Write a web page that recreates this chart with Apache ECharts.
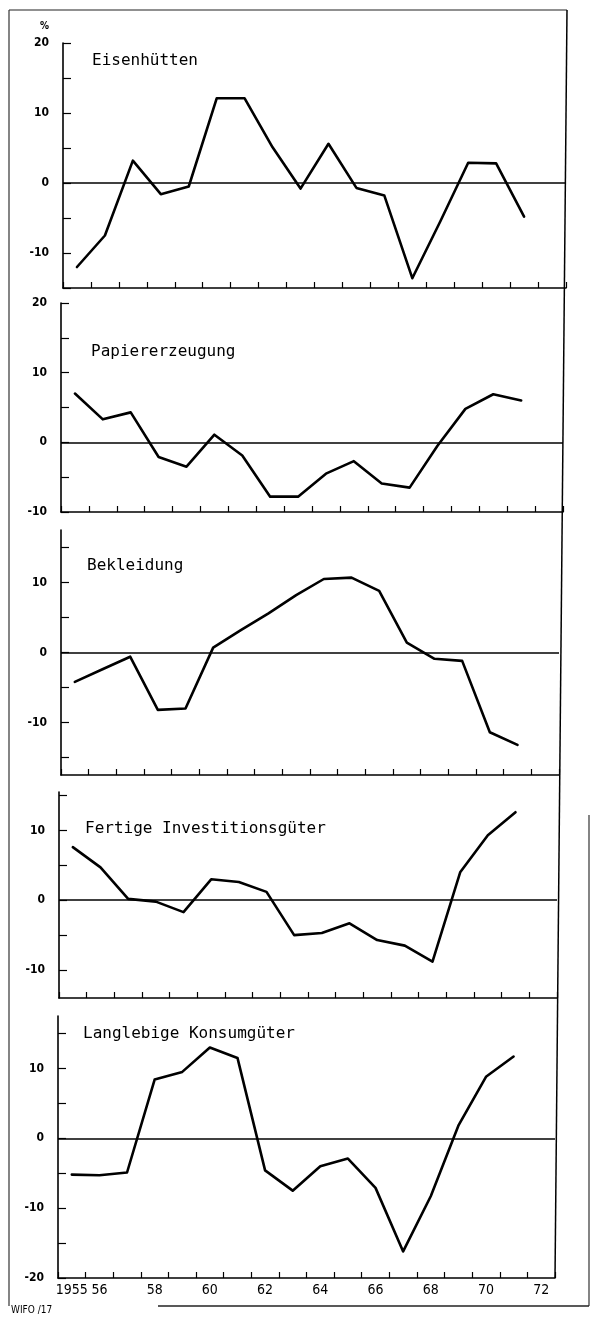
<!DOCTYPE html>
<html>
<head>
<meta charset="utf-8">
<script src="https://cdn.jsdelivr.net/npm/echarts@6/dist/echarts.min.js"></script>
<style>
  html, body { margin: 0; padding: 0; background: #fff; }
  #chart { width: 592px; height: 1319px; }
</style>
</head>
<body>
<div id="chart"></div>
<script>
// ---- data ----
const categories = ['1955','1956','1957','1958','1959','1960','1961','1962','1963','1964','1965','1966','1967','1968','1969','1970','1971','1972'];
const xTickLabels = ['1955','56','','58','','60','','62','','64','','66','','68','','70','','72'];

const panelTitles = ['Eisenhütten','Papiererzeugung','Bekleidung','Fertige Investitionsgüter','Langlebige Konsumgüter'];

const eisenhuetten   = [-12.0, -7.5, 3.2, -1.6, -0.5, 12.1, 12.1, 5.1, -0.8, 5.6, -0.7, -1.8, -13.6, -5.5, 2.9, 2.8, -4.8];
const papier         = [7.0, 3.3, 4.3, -2.1, -3.5, 1.1, -1.9, -7.8, -7.8, -4.5, -2.7, -5.9, -6.5, -0.5, 4.8, 6.9, 6.0];
const bekleidung     = [-4.2, -2.4, -0.6, -8.2, -8.0, 0.7, 3.2, 5.6, 8.2, 10.5, 10.7, 8.8, 1.4, -0.9, -1.2, -11.4, -13.2];
const investition    = [7.6, 4.7, 0.2, -0.2, -1.7, 3.0, 2.6, 1.2, -5.0, -4.7, -3.3, -5.7, -6.5, -8.8, 4.0, 9.3, 12.6];
const konsumgueter   = [-5.2, -5.3, -4.9, 8.4, 9.5, 13.0, 11.5, -4.6, -7.5, -4.0, -2.9, -7.1, -16.2, -8.3, 1.8, 8.8, 11.7];

const seriesData = [eisenhuetten, papier, bekleidung, investition, konsumgueter];

// y ranges, ticks and labels per panel
const yMin = [-15, -10, -17.5, -14, -20];
const yMax = [20, 20, 17.5, 15.5, 17.5];
const yTicks = [
  [-15, -10, -5, 0, 5, 10, 15, 20],
  [-10, -5, 0, 5, 10, 15, 20],
  [-15, -10, -5, 0, 5, 10, 15],
  [-10, -5, 0, 5, 10, 15],
  [-20, -15, -10, -5, 0, 5, 10, 15]
];
const yLabels = [
  [-10, 0, 10, 20],
  [-10, 0, 10, 20],
  [-10, 0, 10],
  [-10, 0, 10],
  [-20, -10, 0, 10]
];

// ---- layout ----
const panels = [
  { l: 63, r: 566, t: 43,   b: 288 },
  { l: 61, r: 563, t: 303,  b: 512 },
  { l: 61, r: 559, t: 530,  b: 775 },
  { l: 59, r: 557, t: 792,  b: 998 },
  { l: 58, r: 555, t: 1016, b: 1278 }
];
const titlePos = [
  { x: 92, y: 53 }, { x: 91, y: 344 }, { x: 87, y: 558 }, { x: 85, y: 821 }, { x: 83, y: 1026 }
];

const numFont = "'DejaVu Sans Condensed','Liberation Sans Narrow','DejaVu Sans',sans-serif";
const titleFont = "'DejaVu Sans Mono','Liberation Mono',monospace";

const grid = [], xAxis = [], yAxis = [], series = [], title = [];
panels.forEach((p, i) => {
  const last = i === panels.length - 1;
  grid.push({ left: p.l, top: p.t, width: p.r - p.l, height: p.b - p.t, containLabel: false, outerBoundsMode: 'none' });
  xAxis.push({
    type: 'category', gridIndex: i, data: categories, boundaryGap: true, position: 'bottom',
    axisLine: { show: true, onZero: false, lineStyle: { color: '#000', width: 1.6 } },
    axisTick: { show: true, inside: true, length: 6, interval: 0, lineStyle: { color: '#000', width: 1.2 } },
    axisLabel: {
      show: last, interval: 0, margin: 5, color: '#000', fontSize: 14, fontFamily: numFont,
      formatter: (v, idx) => xTickLabels[idx]
    },
    splitLine: { show: false }
  });
  yAxis.push({
    type: 'value', gridIndex: i, min: yMin[i], max: yMax[i],
    axisLine: { show: true, onZero: false, lineStyle: { color: '#000', width: 1.6 } },
    axisTick: { show: true, inside: true, length: 8, customValues: yTicks[i], lineStyle: { color: '#000', width: 1.2 } },
    axisLabel: { show: true, customValues: yLabels[i], margin: 14, color: '#000', fontSize: 12, fontWeight: 'bold', fontFamily: numFont },
    splitLine: { show: false }
  });
  series.push({
    type: 'line', xAxisIndex: i, yAxisIndex: i, data: seriesData[i],
    symbol: 'none', smooth: false,
    lineStyle: { color: '#000', width: 2.6, join: 'round', cap: 'round' },
    silent: true, animation: false,
    markLine: {
      silent: true, symbol: ['none', 'none'], animation: false,
      label: { show: false },
      lineStyle: { color: '#000', width: 1.5, type: 'solid' },
      data: [{ yAxis: 0 }]
    }
  });
  title.push({
    text: panelTitles[i], left: titlePos[i].x, top: titlePos[i].y, padding: 0,
    textStyle: { fontFamily: titleFont, fontSize: 16, fontWeight: 'normal', color: '#000' }
  });
});

const chart = echarts.init(document.getElementById('chart'), null, { renderer: 'canvas' });
chart.setOption({
  backgroundColor: '#fff',
  animation: false,
  title, grid, xAxis, yAxis, series,
  graphic: [
    { type: 'line', shape: { x1: 9, y1: 10, x2: 567, y2: 10 }, style: { stroke: '#222', lineWidth: 1.2 } },
    { type: 'line', shape: { x1: 9, y1: 10, x2: 9, y2: 1306 }, style: { stroke: '#333', lineWidth: 1.2 } },
    { type: 'line', shape: { x1: 567, y1: 10, x2: 555, y2: 1278 }, style: { stroke: '#000', lineWidth: 1.5 } },
    { type: 'line', shape: { x1: 589, y1: 815, x2: 589, y2: 1306 }, style: { stroke: '#333', lineWidth: 1.2 } },
    { type: 'line', shape: { x1: 158, y1: 1306, x2: 589, y2: 1306 }, style: { stroke: '#222', lineWidth: 1.4 } },
    { type: 'text', left: 40, top: 21, style: { text: '%', fill: '#000', fontSize: 10, fontWeight: 'bold', fontFamily: numFont } },
    { type: 'text', left: 11, top: 1305, style: { text: 'WIFO /17', fill: '#000', fontSize: 10, fontFamily: numFont } }
  ]
});
</script>
</body>
</html>
